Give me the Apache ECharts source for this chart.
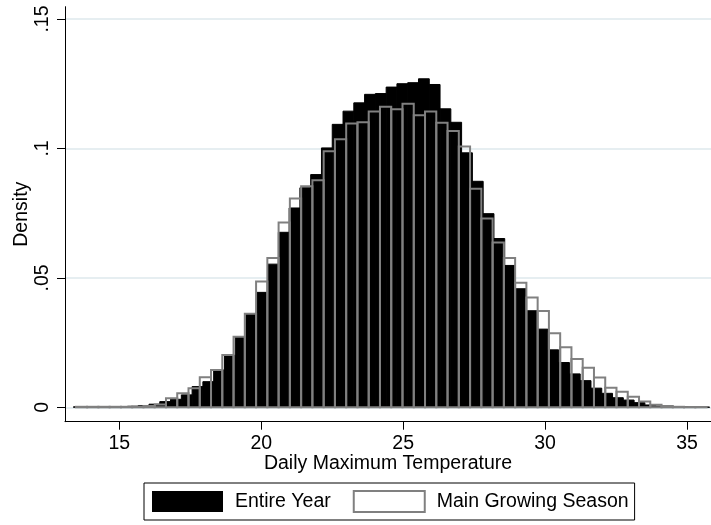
<!DOCTYPE html>
<html>
<head>
<meta charset="utf-8">
<script src="https://cdn.jsdelivr.net/npm/echarts@6/dist/echarts.min.js"></script>
<style>
html,body{margin:0;padding:0;background:#fff;}
#chart{width:711px;height:525px;}
</style>
</head>
<body>
<div id="chart"></div>
<script>
// Histogram bins (Stata default binning): first bin edge and bin width per series
const entireYearStart = 13.387;
const entireYearWidth = 0.3798;
const growingStart = 13.47;
const growingWidth = 0.3968;

// Densities per bin
const entireYearDensity = [
  0.0002, 0.0002, 0.0002, 0.0002, 0.0003, 0.0004, 0.0007, 0.0012, 0.0022, 0.0031,
  0.0048, 0.0080, 0.0099, 0.0144, 0.0200, 0.0273, 0.0361, 0.0444, 0.0553, 0.0676,
  0.0770, 0.0848, 0.0899, 0.1002, 0.1093, 0.1144, 0.1176, 0.1209, 0.1212, 0.1237,
  0.1250, 0.1254, 0.1269, 0.1247, 0.1153, 0.1101, 0.0983, 0.0873, 0.0748, 0.0652,
  0.0548, 0.0458, 0.0373, 0.0302, 0.0222, 0.0173, 0.0129, 0.0103, 0.0074, 0.0054,
  0.0037, 0.0028, 0.0018, 0.0009, 0.0005, 0.0003, 0.0002, 0.0001, 0.0001
];
const growingDensity = [
  0.0002, 0.0002, 0.0002, 0.0002, 0.0002, 0.0003, 0.0005, 0.0011, 0.0035, 0.0054,
  0.0074, 0.0116, 0.0144, 0.0202, 0.0273, 0.0361, 0.0486, 0.0577, 0.0714, 0.0807,
  0.0854, 0.0877, 0.0989, 0.1035, 0.1096, 0.1101, 0.1143, 0.1161, 0.1151, 0.1173,
  0.1128, 0.1143, 0.1099, 0.1067, 0.1007, 0.0844, 0.0729, 0.0637, 0.0577, 0.0481,
  0.0424, 0.0372, 0.0286, 0.0232, 0.0187, 0.0153, 0.0115, 0.0076, 0.0060, 0.0041,
  0.0022, 0.0010, 0.0005, 0.0002, 0.0001, 0.0001
];

const xTicks = [15, 20, 25, 30, 35];
const yTicks = [0, 0.05, 0.1, 0.15];
const yTickLabels = ['0', '.05', '.1', '.15'];

const seriesNames = ['Entire Year', 'Main Growing Season'];
const xTitle = 'Daily Maximum Temperature';
const yTitle = 'Density';

function toBins(start, width, dens) {
  return dens.map((d, i) => [start + i * width, start + (i + 1) * width, d]);
}

const FONT = '"Liberation Sans", Arial, sans-serif';
const FS = 19.5;

function makeRender(styleFn) {
  return function (params, api) {
    const x0 = api.value(0), x1 = api.value(1), y = api.value(2);
    const p0 = api.coord([x0, 0]);
    const p1 = api.coord([x1, y]);
    return {
      type: 'rect',
      shape: { x: p0[0], y: p1[1], width: p1[0] - p0[0], height: p0[1] - p1[1] },
      style: styleFn()
    };
  };
}

const chart = echarts.init(document.getElementById('chart'), null, { renderer: 'canvas' });
chart.setOption({
  animation: false,
  backgroundColor: '#ffffff',
  textStyle: { fontFamily: FONT, color: '#000' },
  grid: { left: 65, right: 0, top: 6.7, bottom: 103.3, containLabel: false, outerBoundsMode: 'none' },
  xAxis: {
    type: 'value',
    min: 13.087,
    max: 35.846,
    name: xTitle,
    nameLocation: 'middle',
    nameGap: 32,
    nameMoveOverlap: false,
    nameTextStyle: { fontSize: FS, color: '#000', fontFamily: FONT },
    axisLine: { show: true, onZero: false, lineStyle: { color: '#000', width: 1 } },
    axisTick: { show: true, length: 8, inside: false, customValues: xTicks, lineStyle: { color: '#000' } },
    axisLabel: { show: true, customValues: xTicks, fontSize: FS, color: '#000', margin: 12, fontFamily: FONT },
    splitLine: { show: false }
  },
  yAxis: {
    type: 'value',
    min: -0.00556,
    max: 0.15475,
    name: yTitle,
    nameLocation: 'middle',
    nameRotate: 90,
    nameGap: 33,
    nameMoveOverlap: false,
    nameTextStyle: { fontSize: FS, color: '#000', fontFamily: FONT },
    axisLine: { show: true, onZero: false, lineStyle: { color: '#000', width: 1 } },
    axisTick: { show: true, length: 8, inside: false, customValues: yTicks, lineStyle: { color: '#000' } },
    axisLabel: {
      show: true, customValues: yTicks, rotate: 90, fontSize: FS, color: '#000', margin: 12, fontFamily: FONT,
      formatter: function (v) {
        const idx = yTicks.findIndex(t => Math.abs(t - v) < 1e-9);
        return idx >= 0 ? yTickLabels[idx] : '';
      }
    },
    splitLine: { show: true, lineStyle: { color: '#e6eef1', width: 2 } }
  },
  legend: {
    left: 144,
    top: 483,
    orient: 'horizontal',
    padding: [7, 6, 7, 8],
    itemWidth: 71,
    itemHeight: 21,
    itemGap: 22,
    borderColor: '#000',
    borderWidth: 1,
    textStyle: { fontSize: FS, color: '#000', fontFamily: FONT, padding: [0, 0, 0, 7] },
    data: [
      { name: seriesNames[0], icon: 'rect', itemStyle: { color: '#000', borderColor: '#000', borderWidth: 0 } },
      { name: seriesNames[1], icon: 'rect', itemStyle: { color: '#fff', borderColor: '#808080', borderWidth: 2 } }
    ]
  },
  series: [
    {
      name: seriesNames[0],
      type: 'custom',
      data: toBins(entireYearStart, entireYearWidth, entireYearDensity),
      encode: { x: [0, 1], y: 2 },
      itemStyle: { color: '#000' },
      renderItem: makeRender(() => ({ fill: '#000', stroke: '#000', lineWidth: 1 })),
      z: 2
    },
    {
      name: seriesNames[1],
      type: 'custom',
      data: toBins(growingStart, growingWidth, growingDensity),
      encode: { x: [0, 1], y: 2 },
      itemStyle: { color: '#fff', borderColor: '#808080' },
      renderItem: makeRender(() => ({ fill: 'none', stroke: '#808080', lineWidth: 2 })),
      z: 3
    }
  ]
});
</script>
</body>
</html>
